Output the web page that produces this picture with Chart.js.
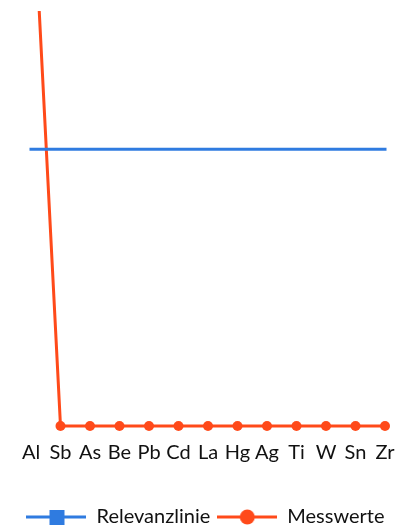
<!DOCTYPE html>
<html>
<head>
<meta charset="utf-8">
<script src="https://cdn.jsdelivr.net/npm/chart.js@4"></script>
<style>
html,body{margin:0;padding:0;background:#fff;}
#wrap{width:411px;height:527px;}
</style>
</head>
<body>
<div id="wrap"><canvas id="c" width="411" height="527"></canvas></div>
<script>
const categories = ["Al","Sb","As","Be","Pb","Cd","La","Hg","Ag","Ti","W","Sn","Zr"];
const relevanzlinie = [100,100,100,100,100,100,100,100,100,100,100,100,100];
const messwerte = [208,0,0,0,0,0,0,0,0,0,0,0,0];
const seriesNames = ["Relevanzlinie","Messwerte"];
const blue = "#2F7BE0";
const orange = "#FF4A1A";

function legendIcon(color, shape){
  const c = document.createElement('canvas');
  c.width = 60; c.height = 16;
  const x = c.getContext('2d');
  x.strokeStyle = color; x.lineWidth = 3;
  x.beginPath(); x.moveTo(0,8); x.lineTo(60,8); x.stroke();
  x.fillStyle = color;
  if(shape === 'rect'){ x.fillRect(23,1,15,15); }
  else { x.beginPath(); x.arc(30,8,7.5,0,Math.PI*2); x.fill(); }
  return c;
}
const icons = [legendIcon(blue,'rect'), legendIcon(orange,'circle')];

new Chart(document.getElementById('c'), {
  type: 'line',
  data: {
    labels: categories,
    datasets: [
      {label: seriesNames[0], data: relevanzlinie, borderColor: blue, backgroundColor: blue, borderWidth: 3, pointRadius: 0, pointHoverRadius: 0, borderCapStyle: 'square', clip: false},
      {label: seriesNames[1], data: messwerte, borderColor: orange, backgroundColor: orange, borderWidth: 3, pointRadius: 5, pointBorderWidth: 0, pointHoverRadius: 5, clip: {left: 10, top: 0, right: 10, bottom: 10}}
    ]
  },
  options: {
    responsive: false,
    animation: false,
    layout: {padding: {left: 0, right: 0, top: 11, bottom: -10}},
    scales: {
      x: {
        offset: false,
        grid: {display: false},
        border: {display: false},
        ticks: {color: '#111', font: {family: 'Lato', size: 20}, padding: 7, maxRotation: 0, autoSkip: false},
        afterFit: (s) => { s.height += 28; }
      },
      y: {
        display: true, min: 0, max: 150, position: 'left',
        grid: {display: false}, border: {display: false}, ticks: {display: false},
        afterFit: (s) => { s.width = 31; }
      },
      y2: {
        display: true, min: 0, max: 150, position: 'right',
        grid: {display: false}, border: {display: false}, ticks: {display: false},
        afterFit: (s) => { s.width = 26; }
      }
    },
    plugins: {
      tooltip: {enabled: false},
      legend: {
        position: 'bottom',
        labels: {
          usePointStyle: true,
          pointStyleWidth: 60,
          boxHeight: 16,
          padding: 7,
          color: '#111',
          font: {family: 'Lato', size: 20},
          generateLabels: (chart) => chart.data.datasets.map((d,i) => ({
            text: d.label, pointStyle: icons[i], fillStyle: d.borderColor, strokeStyle: d.borderColor,
            lineWidth: 0, hidden: false, datasetIndex: i, fontColor: '#111'
          }))
        }
      }
    }
  }
});
</script>
</body>
</html>
